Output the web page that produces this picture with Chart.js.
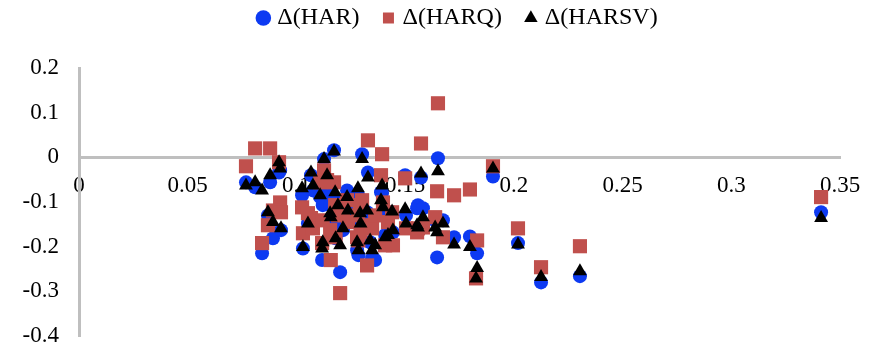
<!DOCTYPE html>
<html>
<head>
<meta charset="utf-8">
<script src="https://cdn.jsdelivr.net/npm/chart.js@4.4.1/dist/chart.umd.min.js"></script>
<style>
    html, body { margin: 0; padding: 0; background: #ffffff; }
    .chart-wrap { width: 873px; height: 349px; }
</style>
</head>
<body>
<div class="chart-wrap"><canvas id="scatterChart"></canvas></div>
<script>
const seriesNames = ["Δ(HAR)", "Δ(HARQ)", "Δ(HARSV)"];

const xValues = [
    0.0768, 0.0810, 0.0842, 0.0879, 0.0920, 0.0925, 0.0869, 0.0892, 0.0929, 0.1026,
    0.1030, 0.1053, 0.1067, 0.1076, 0.1109, 0.1118, 0.1121, 0.1127, 0.1173, 0.1141,
    0.1155, 0.1158, 0.1178, 0.1180, 0.1191, 0.1201, 0.1214, 0.1233, 0.1237, 0.1279,
    0.1283, 0.1285, 0.1293, 0.1295, 0.1302, 0.1325, 0.1329, 0.1394, 0.1339, 0.1348,
    0.1362, 0.1389, 0.1398, 0.1408, 0.1421, 0.1440, 0.1444, 0.1500, 0.1504, 0.1555,
    0.1559, 0.1573, 0.1582, 0.1638, 0.1647, 0.1651, 0.1674, 0.1725, 0.1798, 0.1831,
    0.1826, 0.1904, 0.2019, 0.2125, 0.2304, 0.3413
];

const harValues = [
    -0.056, -0.067, -0.215, -0.056, -0.034, -0.029, -0.130, -0.181, -0.163, -0.085,
    -0.204, -0.148, -0.040, -0.074, -0.089, -0.230, -0.107, -0.004, 0.016, -0.078,
    -0.107, -0.152, -0.096, -0.181, -0.152, -0.257, -0.163, -0.074, -0.123, -0.208,
    -0.085, -0.219, -0.130, -0.152, 0.007, -0.123, -0.034, -0.080, -0.190, -0.226,
    -0.230, -0.078, -0.119, -0.174, -0.170, -0.123, -0.168, -0.040, -0.130, -0.114,
    -0.107, -0.045, -0.114, -0.141, -0.224, -0.002, -0.141, -0.179, -0.177, -0.215,
    -0.266, -0.043, -0.192, -0.280, -0.266, -0.123
];

const harqValues = [
    -0.020, 0.020, -0.192, 0.020, -0.011, -0.101, -0.152, -0.119, -0.123, -0.112,
    -0.170, -0.125, -0.136, -0.159, -0.056, -0.192, -0.141, -0.029, -0.056, -0.051,
    -0.163, -0.230, -0.107, -0.179, -0.130, -0.304, -0.123, -0.096, -0.145, -0.179,
    -0.130, -0.186, -0.107, -0.168, -0.096, -0.242, 0.038, 0.007, -0.152, -0.159,
    -0.130, -0.040, -0.101, -0.197, -0.145, -0.123, -0.197, -0.047, -0.159, -0.168,
    -0.159, 0.031, -0.157, -0.134, -0.076, 0.121, -0.179, -0.085, -0.072, -0.186,
    -0.271, -0.020, -0.159, -0.246, -0.199, -0.089
];

const harsvValues = [
    -0.063, -0.056, -0.074, -0.040, -0.011, -0.025, -0.123, -0.145, -0.159, -0.069,
    -0.201, -0.148, -0.034, -0.063, -0.085, -0.204, -0.190, -0.004, 0.013, -0.040,
    -0.125, -0.134, -0.078, -0.181, -0.107, -0.197, -0.159, -0.089, -0.119, -0.190,
    -0.069, -0.208, -0.125, -0.148, -0.004, -0.119, -0.045, -0.063, -0.186, -0.208,
    -0.197, -0.096, -0.112, -0.179, -0.174, -0.121, -0.163, -0.116, -0.148, -0.152,
    -0.157, -0.036, -0.134, -0.157, -0.168, -0.031, -0.148, -0.195, -0.201, -0.248,
    -0.271, -0.025, -0.195, -0.268, -0.255, -0.136
];

const xTicks = [0, 0.05, 0.1, 0.15, 0.2, 0.25, 0.3, 0.35];
const yTicks = [-0.4, -0.3, -0.2, -0.1, 0, 0.1, 0.2];

const fontFamily = "'Liberation Serif', 'Times New Roman', serif";
const axisColor = "#bfbfbf";

function toPoints(values) {
    return values.map((y, i) => ({ x: xValues[i], y }));
}

function formatTick(value) {
    return String(Number(value.toFixed(2)));
}

// legend padding is used both for item spacing and vertical offset, so fix the box height here
const legendHeightPlugin = {
    id: "legendHeight",
    afterInit(chart) {
        const fit = chart.legend.fit;
        chart.legend.fit = function () {
            fit.call(this);
            this.height = 89;
        };
    }
};

new Chart(document.getElementById("scatterChart"), {
    type: "scatter",
    data: {
        datasets: [
            {
                label: seriesNames[0],
                data: toPoints(harValues),
                pointStyle: "circle",
                pointRadius: 7,
                backgroundColor: "#0d3af2",
                borderColor: "#0d3af2",
                borderWidth: 0,
                order: 3
            },
            {
                label: seriesNames[1],
                data: toPoints(harqValues),
                pointStyle: "rect",
                pointRadius: 10,
                backgroundColor: "#c0504d",
                borderColor: "#c0504d",
                borderWidth: 0,
                order: 2
            },
            {
                label: seriesNames[2],
                data: toPoints(harsvValues),
                pointStyle: "triangle",
                pointRadius: 8,
                backgroundColor: "#000000",
                borderColor: "#000000",
                borderWidth: 0,
                order: 1
            }
        ]
    },
    options: {
        responsive: true,
        maintainAspectRatio: false,
        animation: false,
        events: [],
        layout: {
            padding: { left: 0, right: 33, top: -21, bottom: 13 }
        },
        plugins: {
            legend: {
                position: "top",
                fullSize: false,
                labels: {
                    usePointStyle: true,
                    boxWidth: 4,
                    boxHeight: 11,
                    padding: 27,
                    color: "#000000",
                    font: { family: fontFamily, size: 24 },
                    sort: (a, b) => a.datasetIndex - b.datasetIndex
                }
            },
            tooltip: { enabled: false }
        },
        scales: {
            x: {
                type: "linear",
                position: { y: 0 },
                min: 0,
                max: 0.35,
                afterBuildTicks: (scale) => {
                    scale.ticks = xTicks.map((value) => ({ value }));
                },
                afterFit: (scale) => {
                    scale.paddingLeft = 0;
                    scale.paddingRight = 0;
                },
                grid: { display: false, drawTicks: false },
                border: { display: true, color: axisColor, width: 3 },
                ticks: {
                    color: "#000000",
                    font: { family: fontFamily, size: 23 },
                    padding: 15,
                    maxRotation: 0,
                    autoSkip: false,
                    callback: (value) => formatTick(value)
                }
            },
            y: {
                type: "linear",
                min: -0.4,
                max: 0.2,
                afterBuildTicks: (scale) => {
                    scale.ticks = yTicks.map((value) => ({ value }));
                },
                afterFit: (scale) => {
                    scale.width = 79;
                    scale.paddingTop = 0;
                    scale.paddingBottom = 0;
                },
                grid: { display: false, drawTicks: false },
                border: { display: true, color: axisColor, width: 3 },
                ticks: {
                    color: "#000000",
                    font: { family: fontFamily, size: 23 },
                    padding: 20,
                    autoSkip: false,
                    callback: (value) => formatTick(value)
                }
            }
        }
    },
    plugins: [legendHeightPlugin]
});
</script>
</body>
</html>
